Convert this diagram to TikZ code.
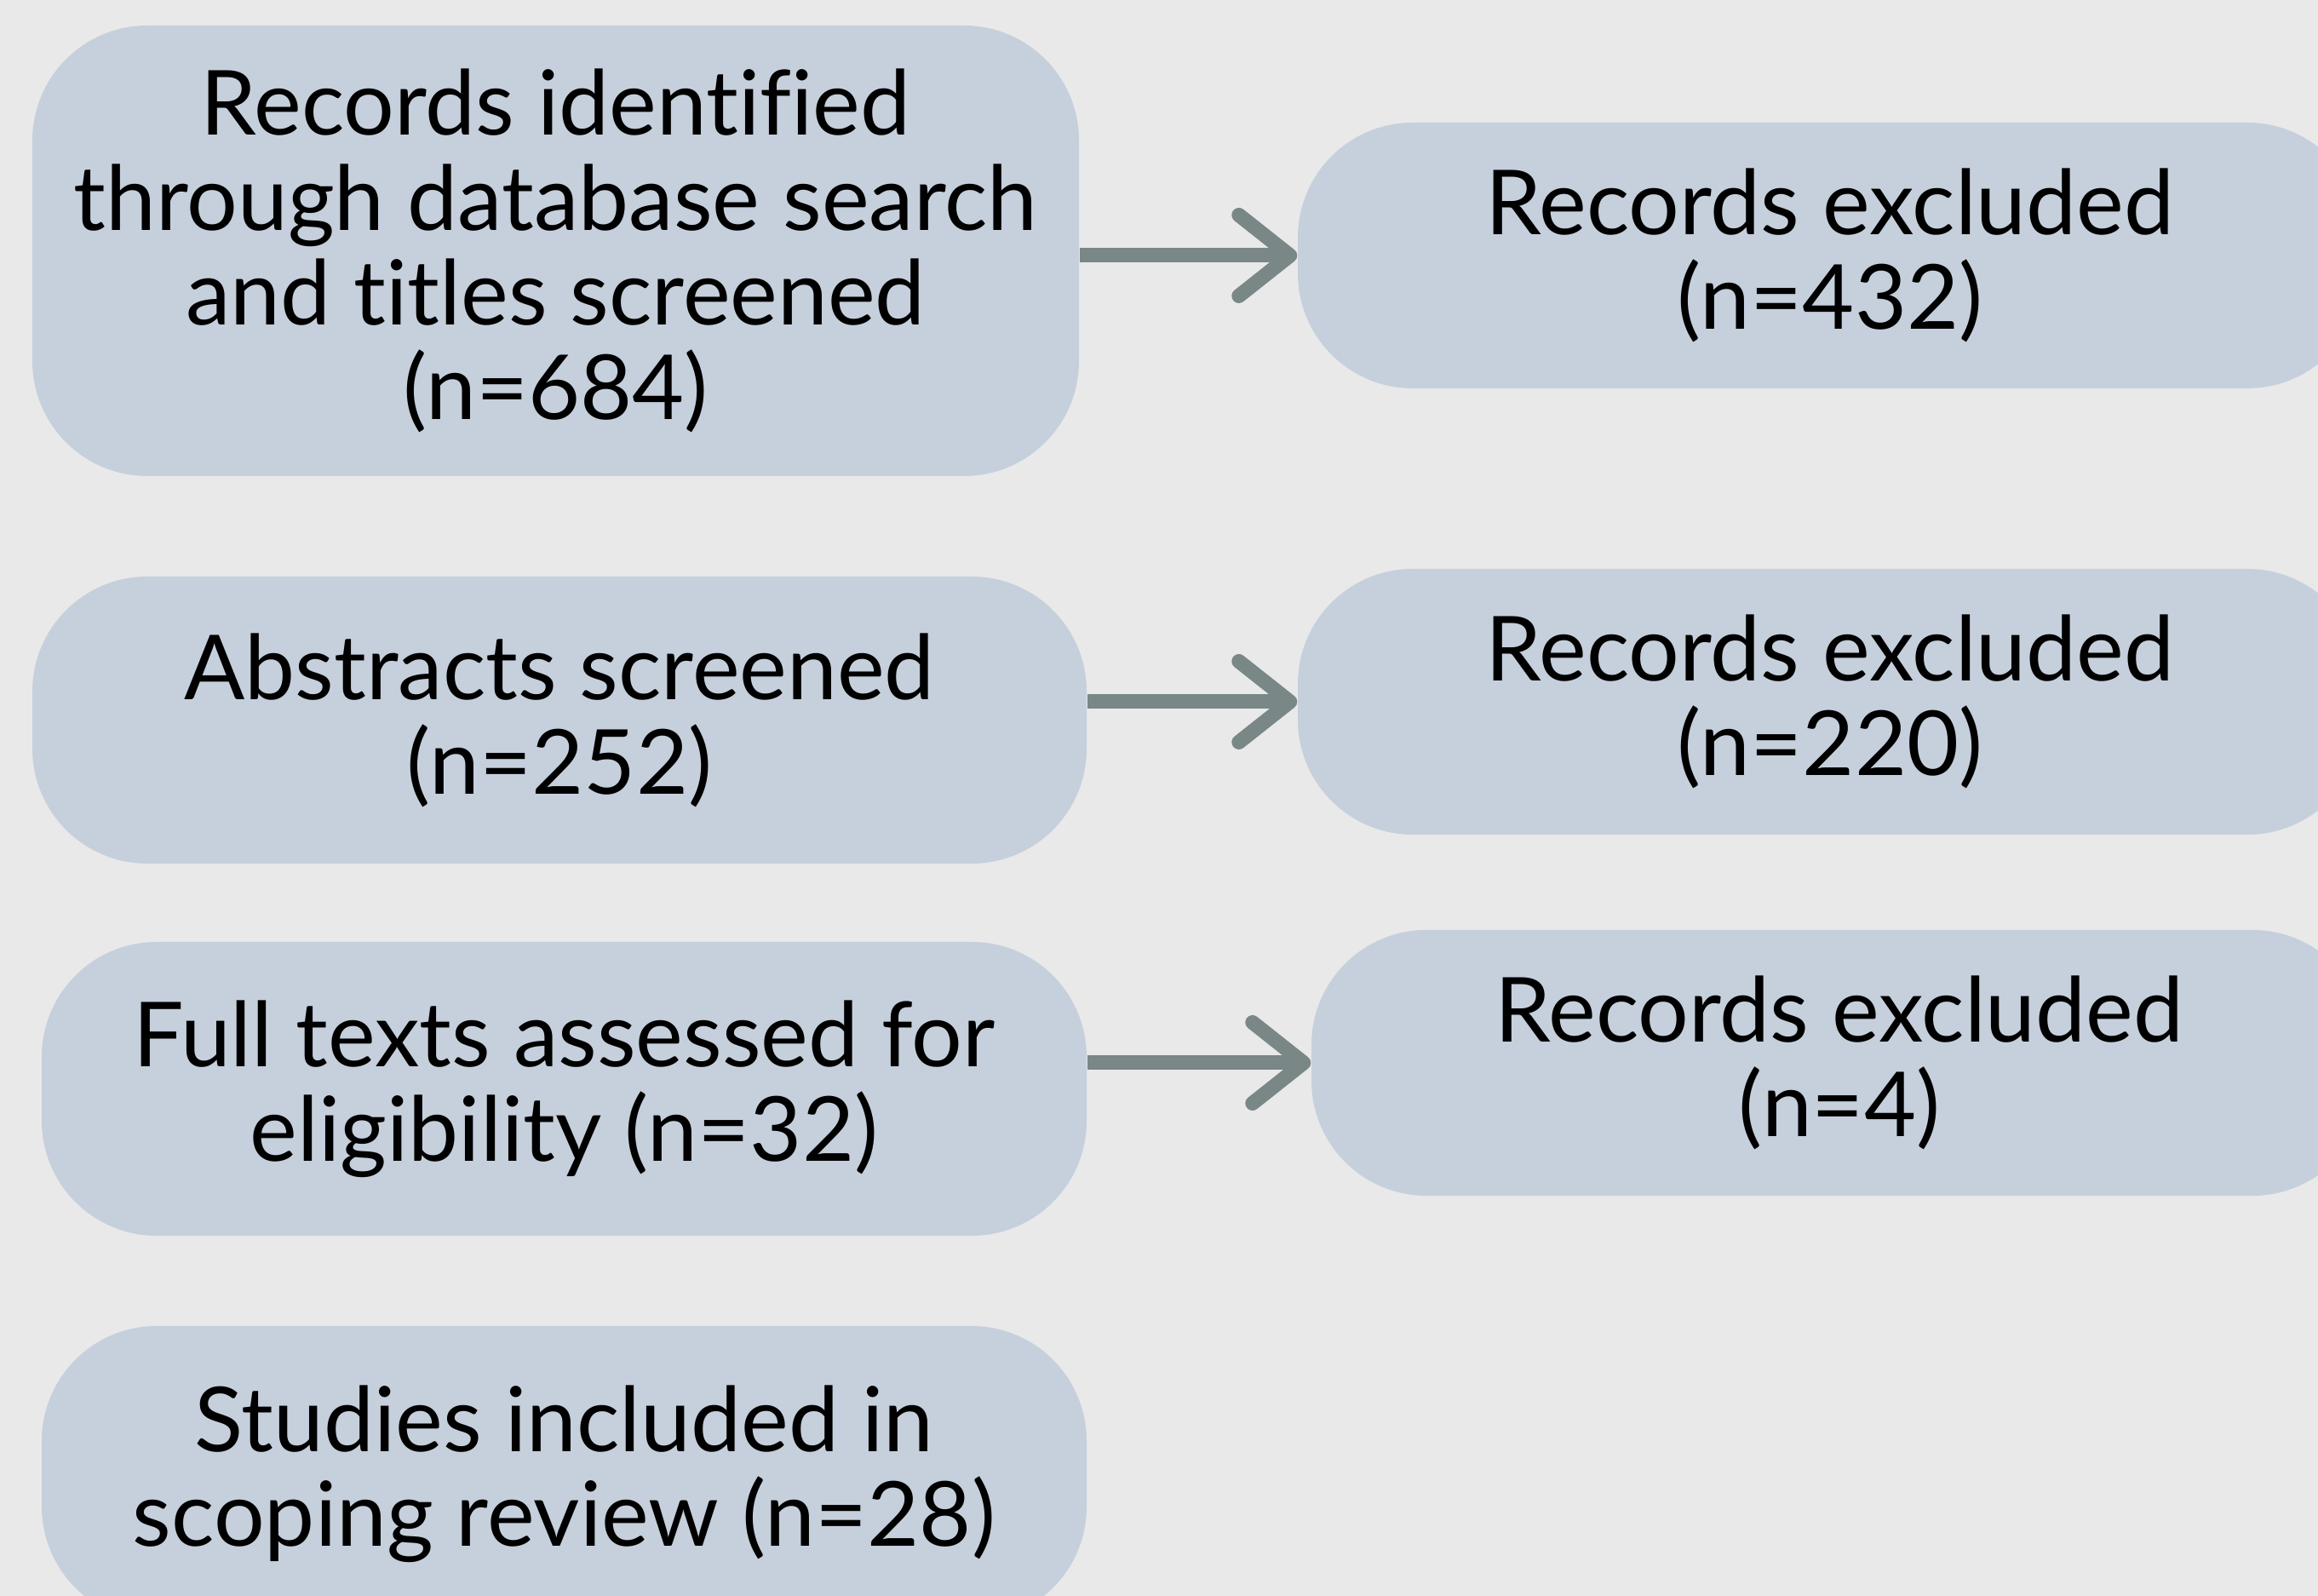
\documentclass[tikz,border=0pt]{standalone}
\usepackage{fontspec}
\setmainfont{Lato}[Ligatures=NoCommon]
\usetikzlibrary{arrows.meta}
\definecolor{pagebg}{HTML}{E9E9E9}
\definecolor{boxfill}{HTML}{C6D0DC}
\definecolor{arrowgray}{HTML}{798786}

\begin{document}
\begin{tikzpicture}
        \tikzstyle{stage}=[rounded corners=1.35cm,fill=boxfill,align=center,inner sep=0pt,font=\fontsize{30}{31.6}\selectfont]
        \tikzstyle{excluded}=[stage,minimum width=12.5cm,minimum height=3.12cm]
        \tikzstyle{edge}=[draw=arrowgray,line width=0.17cm,-{Straight Barb[round,length=0.6cm,width=0.95cm]}]

        \clip (0,0) rectangle (27.22,18.74);
        \fill[pagebg] (0,0) rectangle (27.22,18.74);

        % left column
        \node [stage,minimum width=12.29cm,minimum height=5.29cm] (b1) at (6.525,15.795) {Records identified\\through database search\\and titles screened\\(n=684)};
        \node [stage,minimum width=12.38cm,minimum height=3.37cm] (b2) at (6.57,10.285) {Abstracts screened\\(n=252)};
        \node [stage,minimum width=12.27cm,minimum height=3.45cm] (b3) at (6.625,5.955) {Full texts assessed for\\eligibility (n=32)};
        \node [stage,minimum width=12.27cm,minimum height=3.47cm] (b4) at (6.625,1.435) {Studies included in\\scoping review (n=28)};

        % right column
        \node [excluded] (r1) at (21.49,15.74) {Records excluded\\(n=432)};
        \node [excluded] (r2) at (21.49,10.50) {Records excluded\\(n=220)};
        \node [excluded,minimum width=12.4cm] (r3) at (21.60,6.26) {Records excluded\\(n=4)};

        \path (b1.east |- r1.west) edge[edge] (r1.west);
        \path (b2.east |- r2.west) edge[edge] (r2.west);
        \path (b3.east |- r3.west) edge[edge] (r3.west);
\end{tikzpicture}
\end{document}
